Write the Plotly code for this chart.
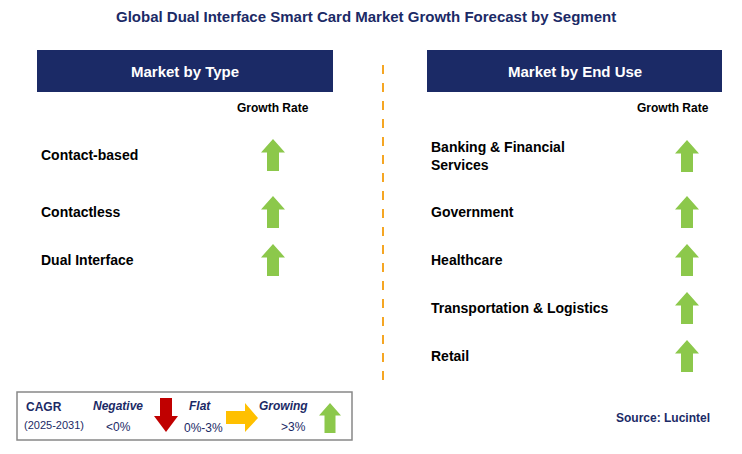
import plotly.graph_objects as go

title = "Global Dual Interface Smart Card Market Growth Forecast by Segment"
left_header = "Market by Type"
right_header = "Market by End Use"
type_cats = ["Contact-based", "Contactless", "Dual Interface"]
type_growth = ["up", "up", "up"]
end_use_cats = ["Banking & Financial<br>Services", "Government", "Healthcare",
                "Transportation & Logistics", "Retail"]
end_use_growth = ["up", "up", "up", "up", "up"]

W, H = 742, 454
OFF = 8  # page body margin compensation
NAVY = "#1b2a66"
GREEN = "#8cc84b"
fig = go.Figure()
shapes, ann = [], []
F = "Liberation Sans, Arial"

def up_arrow(cx, cy, color=GREEN, h=32, w=24, sw=12):
    top, bot = cy - h/2, cy + h/2
    hb = top + h*0.42
    p = (f"M{cx},{top} L{cx+w/2},{hb} L{cx+sw/2},{hb} L{cx+sw/2},{bot} "
         f"L{cx-sw/2},{bot} L{cx-sw/2},{hb} L{cx-w/2},{hb} Z")
    shapes.append(dict(type="path", path=p, fillcolor=color, line=dict(width=0), xref="x", yref="y"))

def text(x, y, s, size=14, color="black", bold=True, anchor="left", italic=False):
    if bold: s = f"<b>{s}</b>"
    if italic: s = f"<i>{s}</i>"
    ann.append(dict(x=x, y=y, text=s, showarrow=False, xref="x", yref="y",
                    xanchor=anchor, yanchor="middle", align="left",
                    font=dict(family=F, size=size, color=color)))

text(W/2 - 5, 16, title, 15, NAVY, anchor="center")
for x0, x1, lab in [(37, 333, left_header), (427, 722, right_header)]:
    shapes.append(dict(type="rect", x0=x0, x1=x1, y0=50, y1=92, fillcolor=NAVY, line=dict(width=0)))
    text((x0+x1)/2, 71, lab, 15, "white", anchor="center")
text(273, 108, "Growth Rate", 12, anchor="center")
text(673, 108, "Growth Rate", 12, anchor="center")
shapes.append(dict(type="line", x0=383, x1=383, y0=65, y1=380, line=dict(color="#f5a623", width=2, dash="dash")))

ys_left = [155, 212, 260]
for i, (c, g) in enumerate(zip(type_cats, type_growth)):
    text(39, ys_left[i], c, 14)
    up_arrow(273, ys_left[i])
ys_right = [156, 212, 260, 308, 356]
for i, (c, g) in enumerate(zip(end_use_cats, end_use_growth)):
    text(429, ys_right[i], c, 14)
    up_arrow(687, ys_right[i])

# legend
shapes.append(dict(type="rect", x0=17, x1=352, y0=392, y1=440, fillcolor="white", line=dict(color="#888", width=1.5)))
text(24, 407, "CAGR", 12, NAVY)
text(22, 425, "(2025-2031)", 11, NAVY, bold=False)
text(118, 406, "Negative", 12, NAVY, anchor="center", italic=True)
text(118, 427, "&lt;0%", 12, NAVY, bold=False, anchor="center")
cx = 166
p = f"M{cx-6},398 L{cx+6},398 L{cx+6},416 L{cx+12},416 L{cx},432 L{cx-12},416 L{cx-6},416 Z"
shapes.append(dict(type="path", path=p, fillcolor="#c00000", line=dict(width=0)))
text(200, 406, "Flat", 12, NAVY, anchor="center", italic=True)
text(203, 428, "0%-3%", 12, NAVY, bold=False, anchor="center")
p = "M226,411 L245,411 L245,403 L258,418 L245,432 L245,424 L226,424 Z"
shapes.append(dict(type="path", path=p, fillcolor="#ffc000", line=dict(width=0)))
text(283, 406, "Growing", 12, NAVY, anchor="center", italic=True)
text(293, 427, "&gt;3%", 12, NAVY, bold=False, anchor="center")
up_arrow(330, 418, h=30, w=22, sw=11)

text(712, 418, "Source: Lucintel", 12, NAVY, anchor="right")

fig.update_layout(width=W, height=H, margin=dict(l=0, r=0, t=0, b=0),
                  paper_bgcolor="white", plot_bgcolor="white",
                  xaxis=dict(range=[OFF, W + OFF], visible=False, fixedrange=True),
                  yaxis=dict(range=[H + OFF, OFF], visible=False, fixedrange=True),
                  shapes=shapes, annotations=ann, showlegend=False)
fig.write_html("out.html")
